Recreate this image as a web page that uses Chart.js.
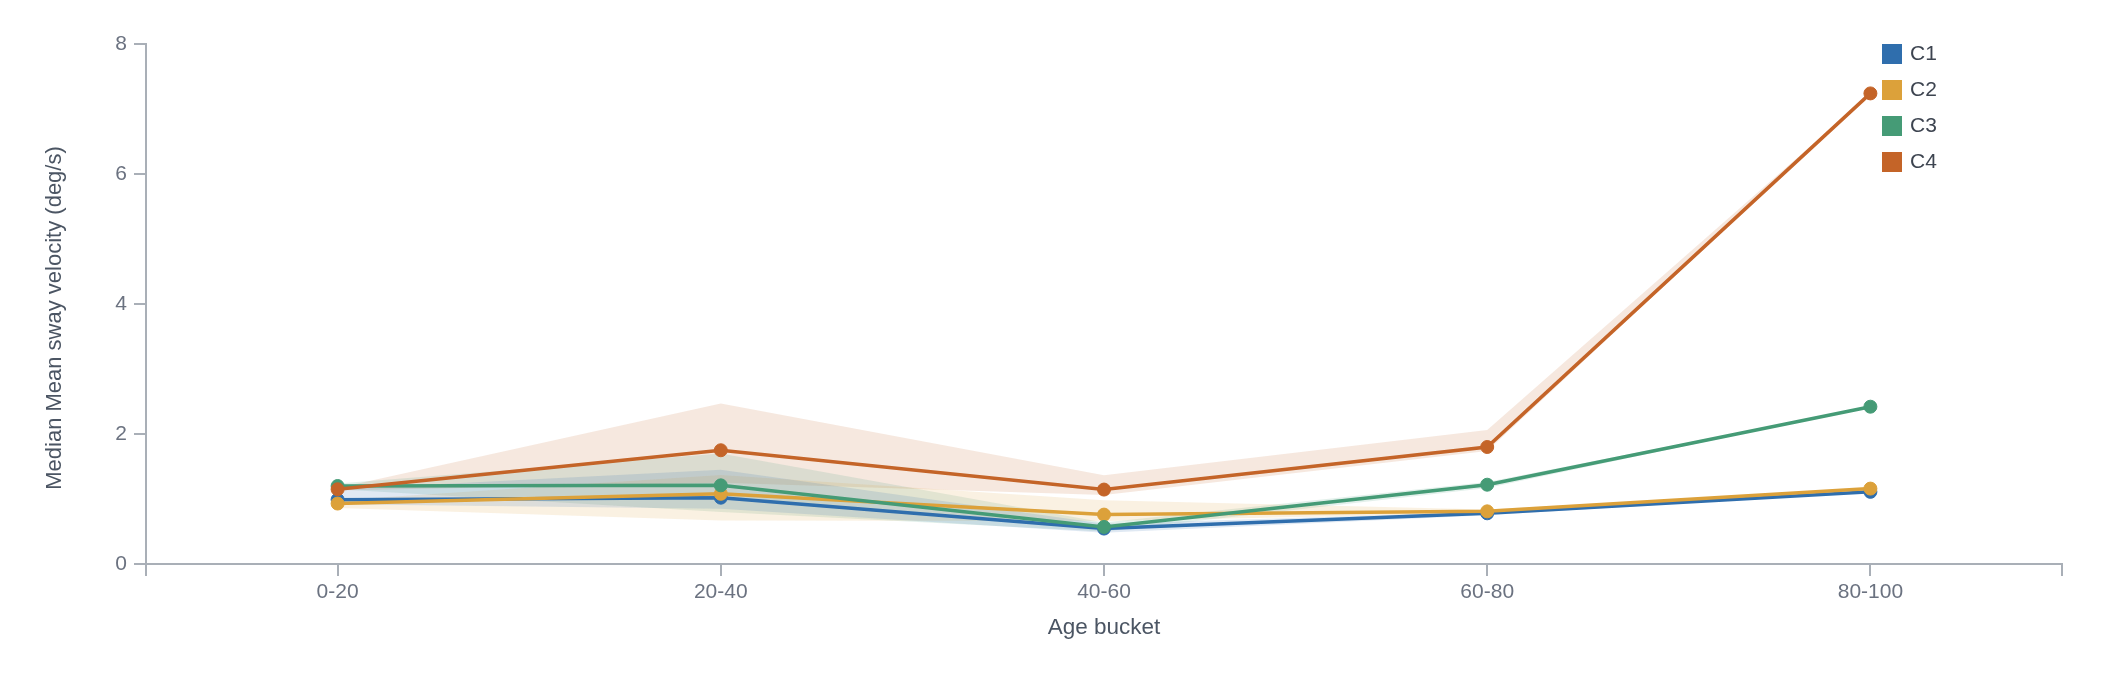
<!DOCTYPE html>
<html>
<head>
<meta charset="utf-8">
<script src="https://cdn.jsdelivr.net/npm/chart.js@4.4.0/dist/chart.umd.min.js"></script>
<style>
  html, body { margin: 0; padding: 0; background: #fff; }
  #wrap { width: 2102px; height: 674px; }
</style>
</head>
<body>
<div id="wrap"><canvas id="swayChart"></canvas></div>
<script>
const ageBuckets = ['0-20', '20-40', '40-60', '60-80', '80-100'];
const seriesNames = ['C1', 'C2', 'C3', 'C4'];
const seriesColors = ['#2f6ead', '#dca13a', '#459b76', '#c46428'];

// medians per age bucket
const c1Median = [0.99, 1.02, 0.545, 0.78, 1.11];
const c2Median = [0.93, 1.08, 0.76, 0.81, 1.16];
const c3Median = [1.20, 1.21, 0.57, 1.22, 2.42];
const c4Median = [1.15, 1.75, 1.145, 1.80, 7.24];

// shaded band (low / high)
const c1Low = [0.92, 0.85, 0.48, 0.75, 1.11];
const c1High = [1.15, 1.45, 0.62, 0.80, 1.11];
const c2Low = [0.86, 0.67, 0.66, 0.78, 1.16];
const c2High = [0.98, 1.37, 0.98, 0.84, 1.16];
const c3Low = [1.15, 0.80, 0.50, 1.17, 2.42];
const c3High = [1.24, 1.70, 0.64, 1.26, 2.42];
const c4Low = [1.13, 1.25, 1.06, 1.74, 7.24];
const c4High = [1.17, 2.47, 1.365, 2.06, 7.24];

const yTicks = [0, 2, 4, 6, 8];
const yTitle = 'Median Mean sway velocity (deg/s)';

const medians = [c1Median, c2Median, c3Median, c4Median];
const lows = [c1Low, c2Low, c3Low, c4Low];
const highs = [c1High, c2High, c3High, c4High];

const fontFamily = '"Liberation Sans", Arial, Helvetica, sans-serif';
const axisColor = '#a9afb7';

function withAlpha(hex, a) {
  const n = parseInt(hex.slice(1), 16);
  return 'rgba(' + (n >> 16) + ',' + ((n >> 8) & 255) + ',' + (n & 255) + ',' + a + ')';
}

let datasets = [];
seriesNames.forEach((name, i) => {
  datasets.push({
    label: name + ' high',
    data: highs[i],
    fill: '+1',
    backgroundColor: withAlpha(seriesColors[i], 0.15),
    borderColor: 'transparent',
    borderWidth: 0,
    pointRadius: 0,
    order: 10
  });
  datasets.push({
    label: name + ' low',
    data: lows[i],
    fill: false,
    borderColor: 'transparent',
    borderWidth: 0,
    pointRadius: 0,
    order: 10
  });
});
seriesNames.forEach((name, i) => {
  datasets.push({
    label: name,
    data: medians[i],
    fill: false,
    borderColor: seriesColors[i],
    backgroundColor: seriesColors[i],
    borderWidth: 3.5,
    pointRadius: 6.5,
    pointBorderWidth: 1,
    pointBackgroundColor: seriesColors[i],
    pointBorderColor: seriesColors[i],
    order: 4 - i
  });
});

// legend inside the plot (top right), y title, outer ticks of the x axis
const sideLegend = {
  id: 'sideLegend',
  afterDraw(chart) {
    const ctx = chart.ctx;
    const area = chart.chartArea;
    const x0 = area.right - 180;
    ctx.save();
    ctx.font = '21px ' + fontFamily;
    ctx.textBaseline = 'middle';
    ctx.textAlign = 'left';
    seriesNames.forEach((name, i) => {
      const y = area.top + i * 36;
      ctx.fillStyle = seriesColors[i];
      ctx.fillRect(x0, y, 20, 20);
      ctx.fillStyle = '#3d4450';
      ctx.fillText(name, x0 + 28, y + 10);
    });

    ctx.save();
    ctx.translate(55, (area.top + area.bottom) / 2 + 14);
    ctx.rotate(-Math.PI / 2);
    ctx.textAlign = 'center';
    ctx.font = '22px ' + fontFamily;
    ctx.fillStyle = '#4b5563';
    ctx.fillText(yTitle, 0, 0);
    ctx.restore();

    ctx.strokeStyle = axisColor;
    ctx.lineWidth = 2;
    [area.left, area.right].forEach(x => {
      ctx.beginPath();
      ctx.moveTo(x, area.bottom);
      ctx.lineTo(x, area.bottom + 12);
      ctx.stroke();
    });
    ctx.restore();
  }
};

let swayCtx = document.getElementById('swayChart').getContext('2d');
let swayChart = new Chart(swayCtx, {
  type: 'line',
  data: {
    labels: ageBuckets,
    datasets: datasets
  },
  options: {
    responsive: true,
    maintainAspectRatio: false,
    animation: false,
    events: [],
    layout: { padding: { top: 44, right: 40, bottom: 0, left: 0 } },
    plugins: {
      legend: { display: false },
      tooltip: { enabled: false },
      filler: { propagate: false }
    },
    elements: { line: { tension: 0 } },
    scales: {
      x: {
        offset: true,
        grid: {
          offset: false,
          drawOnChartArea: false,
          drawTicks: true,
          tickLength: 12,
          color: axisColor,
          lineWidth: 2
        },
        border: { display: true, color: axisColor, width: 2 },
        ticks: {
          padding: 4,
          color: '#6b7280',
          font: { family: fontFamily, size: 21 }
        },
        title: {
          display: true,
          text: 'Age bucket',
          color: '#4b5563',
          font: { family: fontFamily, size: 22.5 },
          padding: { top: 0, bottom: 33 }
        },
        afterFit: (scale) => { scale.height = 110; }
      },
      y: {
        min: 0,
        max: 8,
        afterBuildTicks: (scale) => { scale.ticks = yTicks.map(v => ({ value: v })); },
        grid: {
          drawOnChartArea: false,
          drawTicks: true,
          tickLength: 12,
          color: axisColor,
          lineWidth: 2
        },
        border: { display: true, color: axisColor, width: 2 },
        ticks: {
          padding: 7,
          color: '#6b7280',
          font: { family: fontFamily, size: 21 }
        },
        afterFit: (scale) => { scale.width = 146; }
      }
    }
  },
  plugins: [sideLegend]
});
</script>
</body>
</html>
